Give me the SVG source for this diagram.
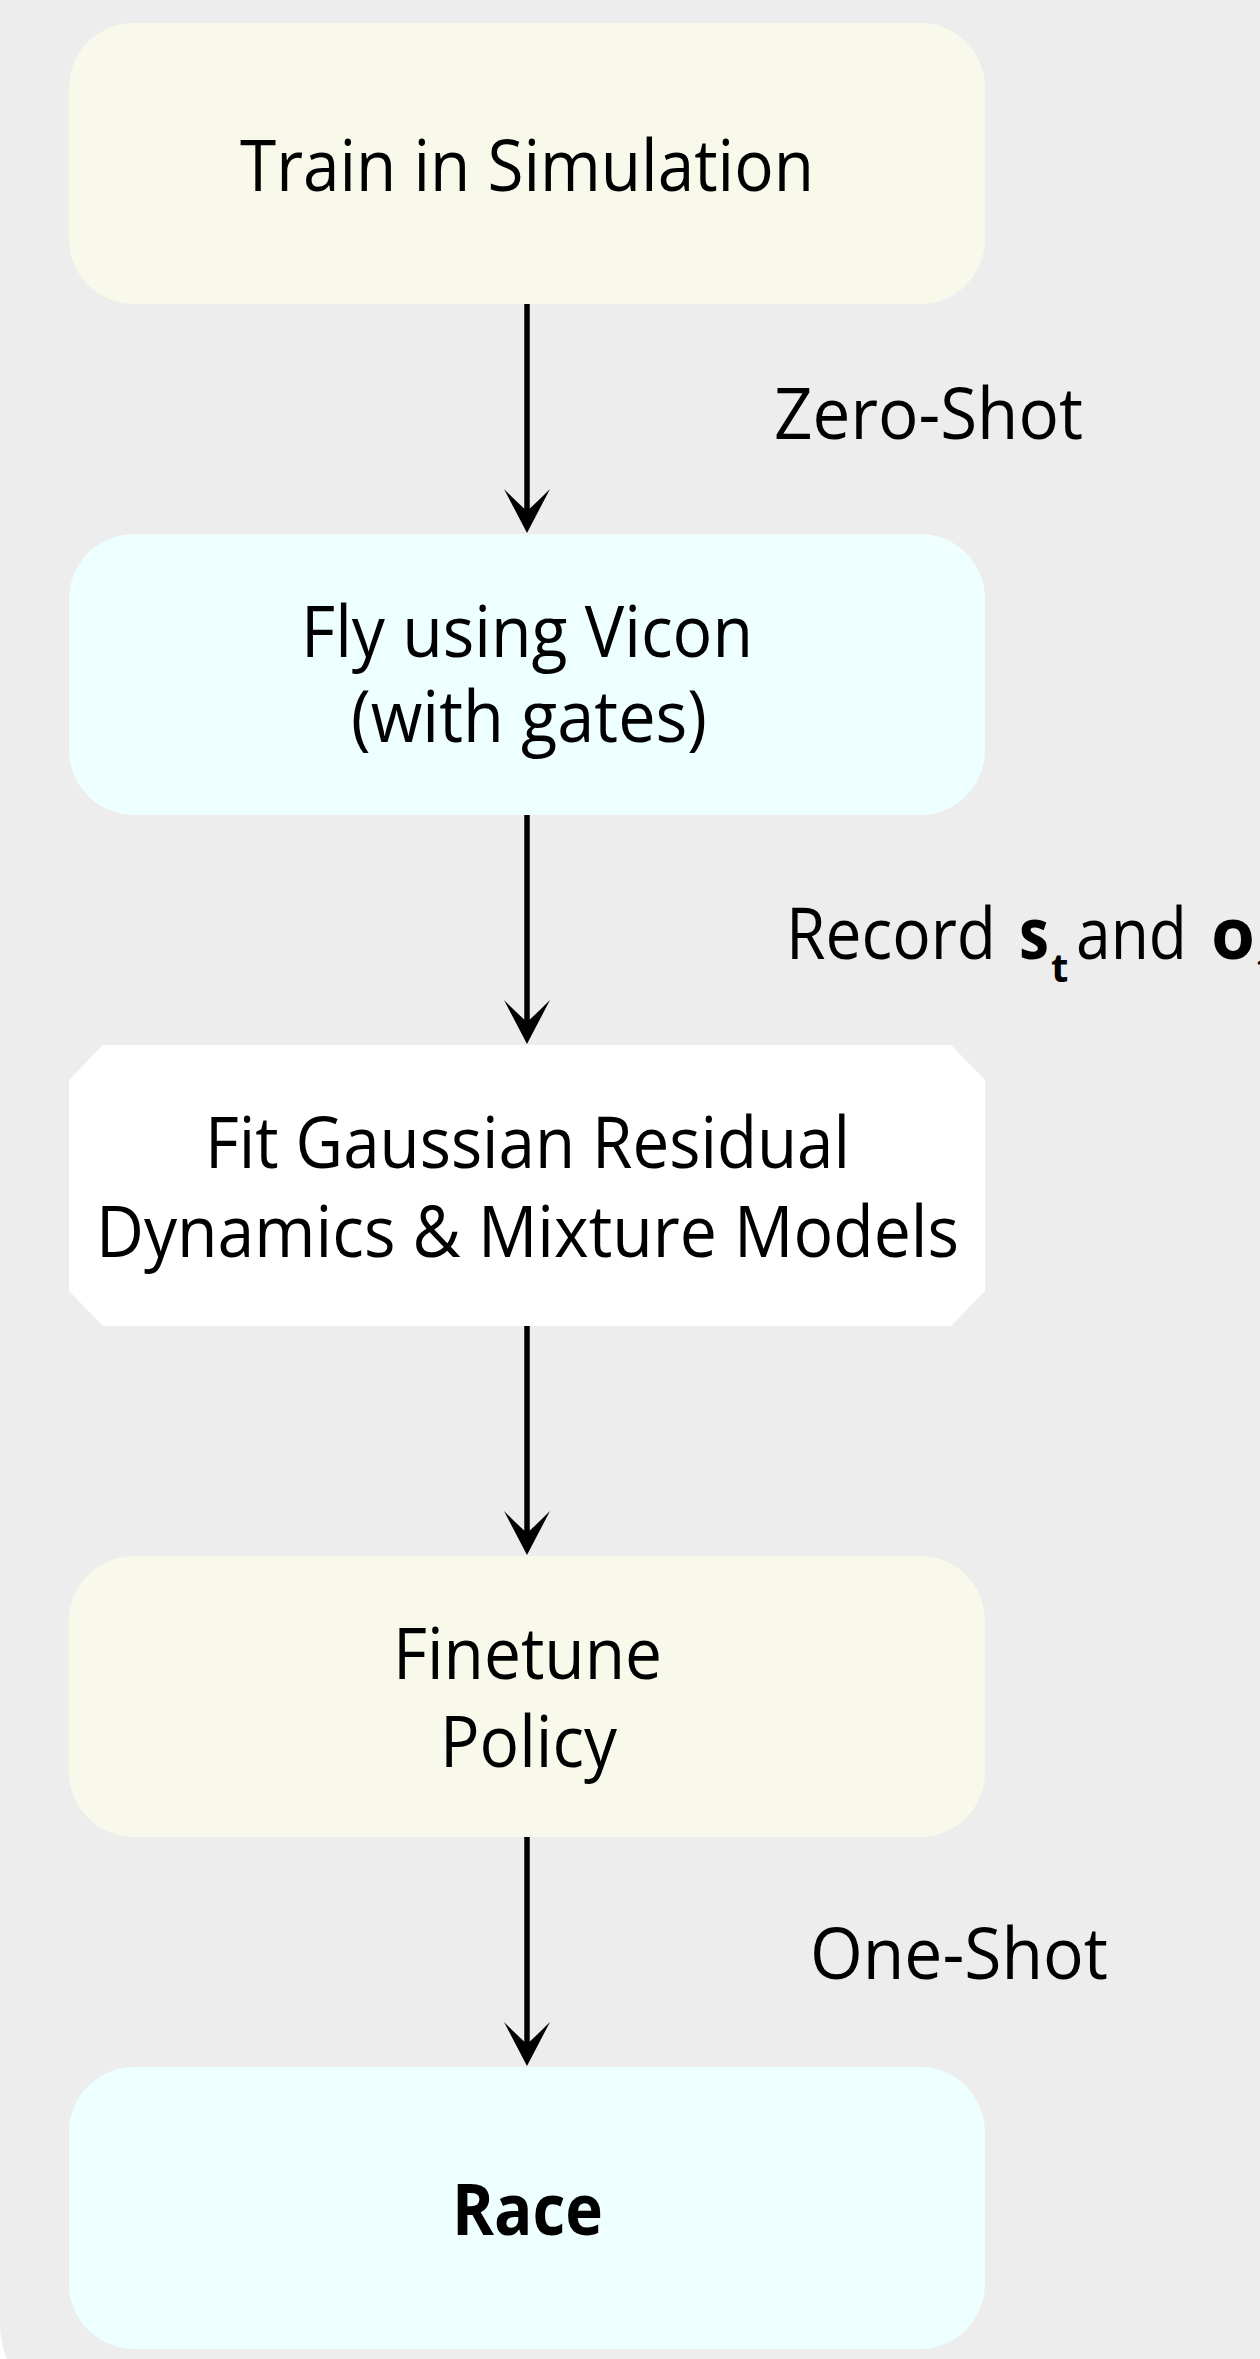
<svg xmlns="http://www.w3.org/2000/svg" width="1260" height="2359" viewBox="0 0 1260 2359">
<defs>
<style>
.t{font-family:"Open Sans","Noto Sans","Liberation Sans",sans-serif;font-size:72px;fill:#000;}
.c{text-anchor:middle;}
.b{font-weight:bold;}
.sub{font-size:40px;font-weight:bold;}
.y{fill:#F9F9EB;}
.cy{fill:#EDFFFF;}
.w{fill:#FFFFFF;}
.ln{stroke:#000;stroke-width:5.5;fill:none;}
</style>
<marker id="ah" markerUnits="userSpaceOnUse" markerWidth="50" markerHeight="50" viewBox="-25 -46 50 50" refX="0" refY="0" orient="auto-start-reverse" overflow="visible">
<path d="M0,0 L-23,-44 Q-8,-29 0,-22 Q8,-29 23,-44 Z" fill="#000" transform="rotate(-90)"/>
</marker>
</defs>
<rect x="0" y="0" width="1260" height="2359" fill="#FFFFFF"/>
<path d="M0,0 H1260 V2359 H7 Q1,2346 0,2327 Z" fill="#EDEDED"/>

<g id="connectors">
<line class="ln" x1="527" y1="304" x2="527" y2="512"/>
<path d="M527,533 L504,489 Q519,504 527,511 Q535,504 550,489 Z" fill="#000"/>
<line class="ln" x1="527" y1="815" x2="527" y2="1023"/>
<path d="M527,1044 L504,1000 Q519,1015 527,1022 Q535,1015 550,1000 Z" fill="#000"/>
<line class="ln" x1="527" y1="1326" x2="527" y2="1534"/>
<path d="M527,1555 L504,1511 Q519,1526 527,1533 Q535,1526 550,1511 Z" fill="#000"/>
<line class="ln" x1="527" y1="1837" x2="527" y2="2045"/>
<path d="M527,2066 L504,2022 Q519,2037 527,2044 Q535,2037 550,2022 Z" fill="#000"/>
<text class="t" x="774" y="439" textLength="309" lengthAdjust="spacingAndGlyphs">Zero-Shot</text>
<g id="record-label">
<text class="t" x="786" y="959" textLength="210" lengthAdjust="spacingAndGlyphs">Record</text>
<text class="t b" x="1019" y="959" textLength="30" lengthAdjust="spacingAndGlyphs">s</text>
<text class="t sub" x="1051" y="982">t</text>
<text class="t" x="1076" y="959" textLength="111" lengthAdjust="spacingAndGlyphs">and</text>
<text class="t b" x="1211" y="959" textLength="44" lengthAdjust="spacingAndGlyphs">o</text>
<text class="t sub" x="1257" y="982">t</text>
</g>
<text class="t" x="810" y="1979" textLength="298" lengthAdjust="spacingAndGlyphs">One-Shot</text>
</g>

<g id="train">
<rect class="y" x="69" y="23" width="916" height="281" rx="65" ry="65"/>
<text class="t c" x="527" y="191" textLength="574" lengthAdjust="spacingAndGlyphs">Train in Simulation</text>
</g>
<g id="fly">
<rect class="cy" x="69" y="534" width="916" height="281" rx="65" ry="65"/>
<text class="t c" x="527" y="657" textLength="452" lengthAdjust="spacingAndGlyphs">Fly using Vicon</text>
<text class="t c" x="529" y="742" textLength="356" lengthAdjust="spacingAndGlyphs">(with gates)</text>
</g>
<g id="fit">
<polygon class="w" points="103,1045 951,1045 985,1080 985,1291 951,1326 103,1326 69,1291 69,1080"/>
<text class="t c" x="527.5" y="1168" textLength="645" lengthAdjust="spacingAndGlyphs">Fit Gaussian Residual</text>
<text class="t c" x="527.5" y="1257" textLength="863" lengthAdjust="spacingAndGlyphs">Dynamics &amp; Mixture Models</text>
</g>
<g id="finetune">
<rect class="y" x="69" y="1556" width="916" height="281" rx="65" ry="65"/>
<text class="t c" x="527.5" y="1679" textLength="269" lengthAdjust="spacingAndGlyphs">Finetune</text>
<text class="t c" x="528.5" y="1767" textLength="177" lengthAdjust="spacingAndGlyphs">Policy</text>
</g>
<g id="race">
<rect class="cy" x="69" y="2067" width="916" height="282" rx="65" ry="65"/>
<text class="t c b" x="527.5" y="2235" textLength="151" lengthAdjust="spacingAndGlyphs">Race</text>
</g>
</svg>
